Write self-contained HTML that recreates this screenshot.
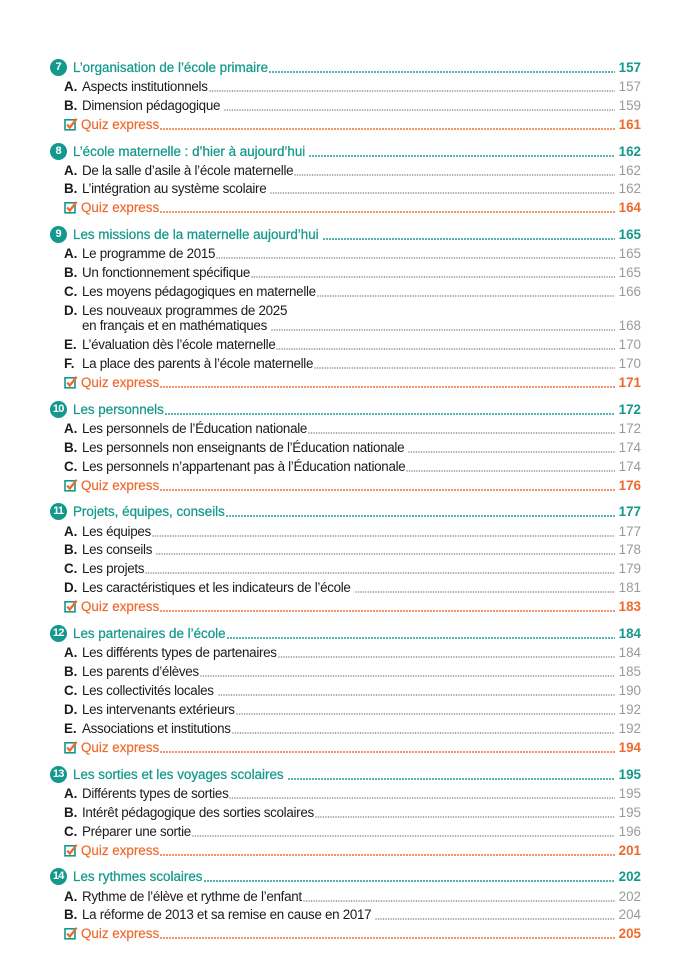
<!DOCTYPE html>
<html>
<head>
<meta charset="utf-8">
<style>
  html,body{margin:0;padding:0;background:#fff;}
  body{width:700px;height:972px;position:relative;overflow:hidden;
       font-family:"Liberation Sans",sans-serif;font-size:13.4px;color:#1b1b1b;}
  .row{position:absolute;right:59px;height:19px;line-height:19px;display:flex;white-space:nowrap;}
  .h{left:50px;color:#13998c;-webkit-text-stroke:0.25px #13998c;}
  .it{left:64px;}
  .it > span:nth-child(2){letter-spacing:-0.3px;}
  .q{left:64px;color:#ee6a2c;-webkit-text-stroke:0.2px #ee6a2c;}
  .num{display:inline-block;width:17px;height:17px;border-radius:50%;background:#13998c;color:#fff;
       font-weight:bold;font-size:11px;line-height:17px;text-align:center;margin-top:1px;margin-right:6px;
       -webkit-text-stroke:0;letter-spacing:-0.8px;text-indent:-0.6px;flex:none;}
  .L{display:inline-block;width:18px;font-weight:bold;flex:none;}
  .d{flex:1;margin-left:1px;margin-right:4px;background-repeat:repeat-x;background-position:0 12.6px;}
  .sp{margin-left:4px;}
  .h .d{background-image:radial-gradient(circle at 1px 1px,#13998c 0.75px,rgba(0,0,0,0) 1.1px);background-size:3px 2px;}
  .it .d{background-image:radial-gradient(circle at 1px 1px,#8a8a8a 0.55px,rgba(0,0,0,0) 0.95px);background-size:2.5px 2px;}
  .q .d{background-image:radial-gradient(circle at 1px 1px,#ee6a2c 0.75px,rgba(0,0,0,0) 1.1px);background-size:3px 2px;}
  .pg{flex:none;}
  .h .pg{font-weight:bold;-webkit-text-stroke:0;}
  .q .pg{font-weight:bold;-webkit-text-stroke:0;}
  .it .pg{color:#9a9a9a;}
  .cb{display:inline-block;width:14px;height:19px;flex:none;margin-right:3px;}
  .cb svg{display:block;margin-top:3px;}
</style>
</head>
<body>

<!-- 7 -->
<div class="row h" style="top:58px"><span class="num">7</span><span>L’organisation de l’école primaire</span><span class="d"></span><span class="pg">157</span></div>
<div class="row it" style="top:77px"><span class="L">A.</span><span>Aspects institutionnels</span><span class="d"></span><span class="pg">157</span></div>
<div class="row it" style="top:96px"><span class="L">B.</span><span>Dimension pédagogique</span><span class="d sp"></span><span class="pg">159</span></div>
<div class="row q" style="top:115px"><span class="cb"><svg width="14" height="13" viewBox="0 0 14 13"><rect x="1" y="1.8" width="10" height="10" fill="none" stroke="#13998c" stroke-width="1.6"/><path d="M3.2 6.5 L5.8 9.6 L12.6 0.8" fill="none" stroke="#ee6a2c" stroke-width="2.3"/></svg></span><span>Quiz express</span><span class="d"></span><span class="pg">161</span></div>

<!-- 8 -->
<div class="row h" style="top:142px"><span class="num">8</span><span>L’école maternelle : d’hier à aujourd’hui</span><span class="d sp"></span><span class="pg">162</span></div>
<div class="row it" style="top:161px"><span class="L">A.</span><span>De la salle d’asile à l’école maternelle</span><span class="d"></span><span class="pg">162</span></div>
<div class="row it" style="top:179px"><span class="L">B.</span><span>L’intégration au système scolaire</span><span class="d sp"></span><span class="pg">162</span></div>
<div class="row q" style="top:198px"><span class="cb"><svg width="14" height="13" viewBox="0 0 14 13"><rect x="1" y="1.8" width="10" height="10" fill="none" stroke="#13998c" stroke-width="1.6"/><path d="M3.2 6.5 L5.8 9.6 L12.6 0.8" fill="none" stroke="#ee6a2c" stroke-width="2.3"/></svg></span><span>Quiz express</span><span class="d"></span><span class="pg">164</span></div>

<!-- 9 -->
<div class="row h" style="top:225px"><span class="num">9</span><span>Les missions de la maternelle aujourd’hui</span><span class="d sp"></span><span class="pg">165</span></div>
<div class="row it" style="top:244px"><span class="L">A.</span><span>Le programme de 2015</span><span class="d"></span><span class="pg">165</span></div>
<div class="row it" style="top:263px"><span class="L">B.</span><span>Un fonctionnement spécifique</span><span class="d"></span><span class="pg">165</span></div>
<div class="row it" style="top:282px"><span class="L">C.</span><span>Les moyens pédagogiques en maternelle</span><span class="d"></span><span class="pg">166</span></div>
<div class="row it" style="top:301px;right:auto"><span class="L">D.</span><span>Les nouveaux programmes de 2025</span></div>
<div class="row it" style="top:316px;left:82px"><span style="letter-spacing:-0.3px">en français et en mathématiques</span><span class="d sp"></span><span class="pg">168</span></div>
<div class="row it" style="top:335px"><span class="L">E.</span><span>L’évaluation dès l’école maternelle</span><span class="d"></span><span class="pg">170</span></div>
<div class="row it" style="top:354px"><span class="L">F.</span><span>La place des parents à l’école maternelle</span><span class="d"></span><span class="pg">170</span></div>
<div class="row q" style="top:373px"><span class="cb"><svg width="14" height="13" viewBox="0 0 14 13"><rect x="1" y="1.8" width="10" height="10" fill="none" stroke="#13998c" stroke-width="1.6"/><path d="M3.2 6.5 L5.8 9.6 L12.6 0.8" fill="none" stroke="#ee6a2c" stroke-width="2.3"/></svg></span><span>Quiz express</span><span class="d"></span><span class="pg">171</span></div>

<!-- 10 -->
<div class="row h" style="top:400px"><span class="num">10</span><span>Les personnels</span><span class="d"></span><span class="pg">172</span></div>
<div class="row it" style="top:419px"><span class="L">A.</span><span>Les personnels de l’Éducation nationale</span><span class="d"></span><span class="pg">172</span></div>
<div class="row it" style="top:438px"><span class="L">B.</span><span>Les personnels non enseignants de l’Éducation nationale</span><span class="d sp"></span><span class="pg">174</span></div>
<div class="row it" style="top:457px"><span class="L">C.</span><span>Les personnels n’appartenant pas à l’Éducation nationale</span><span class="d"></span><span class="pg">174</span></div>
<div class="row q" style="top:476px"><span class="cb"><svg width="14" height="13" viewBox="0 0 14 13"><rect x="1" y="1.8" width="10" height="10" fill="none" stroke="#13998c" stroke-width="1.6"/><path d="M3.2 6.5 L5.8 9.6 L12.6 0.8" fill="none" stroke="#ee6a2c" stroke-width="2.3"/></svg></span><span>Quiz express</span><span class="d"></span><span class="pg">176</span></div>

<!-- 11 -->
<div class="row h" style="top:502px"><span class="num">11</span><span>Projets, équipes, conseils</span><span class="d"></span><span class="pg">177</span></div>
<div class="row it" style="top:522px"><span class="L">A.</span><span>Les équipes</span><span class="d"></span><span class="pg">177</span></div>
<div class="row it" style="top:540px"><span class="L">B.</span><span>Les conseils</span><span class="d sp"></span><span class="pg">178</span></div>
<div class="row it" style="top:559px"><span class="L">C.</span><span>Les projets</span><span class="d"></span><span class="pg">179</span></div>
<div class="row it" style="top:578px"><span class="L">D.</span><span>Les caractéristiques et les indicateurs de l’école</span><span class="d sp"></span><span class="pg">181</span></div>
<div class="row q" style="top:597px"><span class="cb"><svg width="14" height="13" viewBox="0 0 14 13"><rect x="1" y="1.8" width="10" height="10" fill="none" stroke="#13998c" stroke-width="1.6"/><path d="M3.2 6.5 L5.8 9.6 L12.6 0.8" fill="none" stroke="#ee6a2c" stroke-width="2.3"/></svg></span><span>Quiz express</span><span class="d"></span><span class="pg">183</span></div>

<!-- 12 -->
<div class="row h" style="top:624px"><span class="num">12</span><span>Les partenaires de l’école</span><span class="d"></span><span class="pg">184</span></div>
<div class="row it" style="top:643px"><span class="L">A.</span><span>Les différents types de partenaires</span><span class="d"></span><span class="pg">184</span></div>
<div class="row it" style="top:662px"><span class="L">B.</span><span>Les parents d’élèves</span><span class="d"></span><span class="pg">185</span></div>
<div class="row it" style="top:681px"><span class="L">C.</span><span>Les collectivités locales</span><span class="d sp"></span><span class="pg">190</span></div>
<div class="row it" style="top:700px"><span class="L">D.</span><span>Les intervenants extérieurs</span><span class="d"></span><span class="pg">192</span></div>
<div class="row it" style="top:719px"><span class="L">E.</span><span>Associations et institutions</span><span class="d"></span><span class="pg">192</span></div>
<div class="row q" style="top:738px"><span class="cb"><svg width="14" height="13" viewBox="0 0 14 13"><rect x="1" y="1.8" width="10" height="10" fill="none" stroke="#13998c" stroke-width="1.6"/><path d="M3.2 6.5 L5.8 9.6 L12.6 0.8" fill="none" stroke="#ee6a2c" stroke-width="2.3"/></svg></span><span>Quiz express</span><span class="d"></span><span class="pg">194</span></div>

<!-- 13 -->
<div class="row h" style="top:765px"><span class="num">13</span><span>Les sorties et les voyages scolaires</span><span class="d sp"></span><span class="pg">195</span></div>
<div class="row it" style="top:784px"><span class="L">A.</span><span>Différents types de sorties</span><span class="d"></span><span class="pg">195</span></div>
<div class="row it" style="top:803px"><span class="L">B.</span><span>Intérêt pédagogique des sorties scolaires</span><span class="d"></span><span class="pg">195</span></div>
<div class="row it" style="top:822px"><span class="L">C.</span><span>Préparer une sortie</span><span class="d"></span><span class="pg">196</span></div>
<div class="row q" style="top:841px"><span class="cb"><svg width="14" height="13" viewBox="0 0 14 13"><rect x="1" y="1.8" width="10" height="10" fill="none" stroke="#13998c" stroke-width="1.6"/><path d="M3.2 6.5 L5.8 9.6 L12.6 0.8" fill="none" stroke="#ee6a2c" stroke-width="2.3"/></svg></span><span>Quiz express</span><span class="d"></span><span class="pg">201</span></div>

<!-- 14 -->
<div class="row h" style="top:867px"><span class="num">14</span><span>Les rythmes scolaires</span><span class="d"></span><span class="pg">202</span></div>
<div class="row it" style="top:887px"><span class="L">A.</span><span>Rythme de l’élève et rythme de l’enfant</span><span class="d"></span><span class="pg">202</span></div>
<div class="row it" style="top:905px"><span class="L">B.</span><span>La réforme de 2013 et sa remise en cause en 2017</span><span class="d sp"></span><span class="pg">204</span></div>
<div class="row q" style="top:924px"><span class="cb"><svg width="14" height="13" viewBox="0 0 14 13"><rect x="1" y="1.8" width="10" height="10" fill="none" stroke="#13998c" stroke-width="1.6"/><path d="M3.2 6.5 L5.8 9.6 L12.6 0.8" fill="none" stroke="#ee6a2c" stroke-width="2.3"/></svg></span><span>Quiz express</span><span class="d"></span><span class="pg">205</span></div>

</body>
</html>
